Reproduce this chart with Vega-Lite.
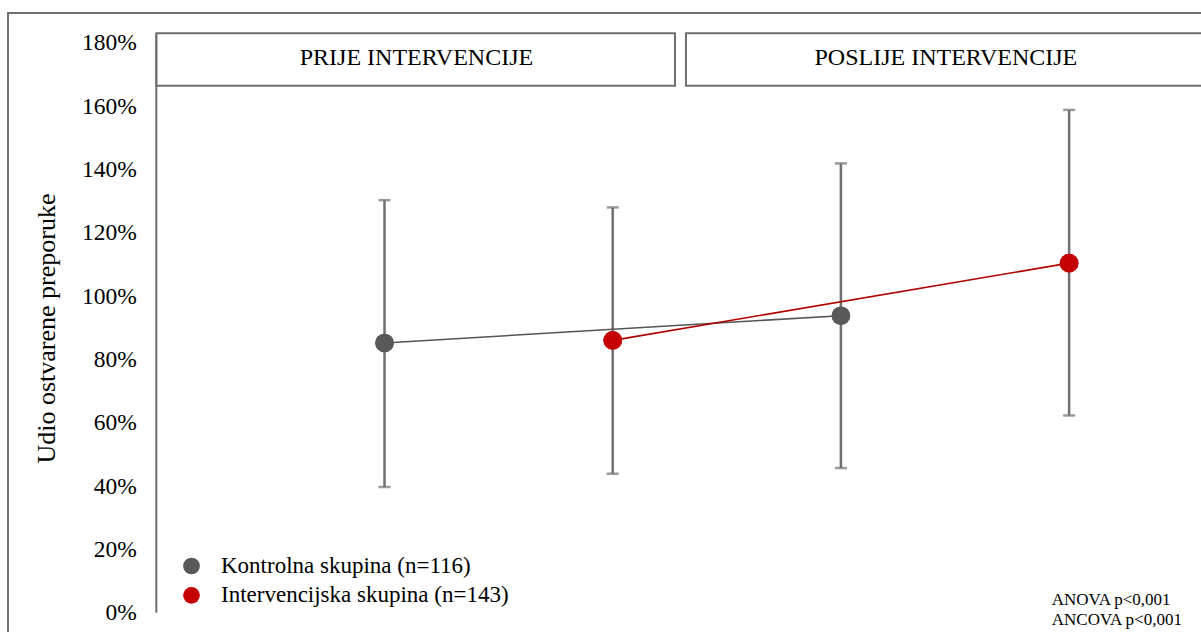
{
  "$schema": "https://vega.github.io/schema/vega-lite/v6.json",
  "width": 1197,
  "height": 623,
  "autosize": {"type": "none"},
  "padding": {"left": 8, "top": 13, "right": -4, "bottom": -4},
  "background": "white",
  "config": {
    "view": {"stroke": "#707070", "strokeWidth": 2},
    "axisX": {"disable": true},
    "axis": {"labelFont": "Liberation Serif", "titleFont": "Liberation Serif"},
    "legend": {"labelFont": "Liberation Serif", "titleFont": "Liberation Serif"},
    "text": {"font": "Liberation Serif"}
  },
  "datasets": {
    "points": [
      {"faza": "PRIJE INTERVENCIJE", "pos": 1, "skupina": "Kontrolna skupina (n=116)", "mean": 85.2, "low": 39.7, "high": 130.3},
      {"faza": "PRIJE INTERVENCIJE", "pos": 2, "skupina": "Intervencijska skupina (n=143)", "mean": 86.0, "low": 43.9, "high": 128.0},
      {"faza": "POSLIJE INTERVENCIJE", "pos": 3, "skupina": "Kontrolna skupina (n=116)", "mean": 93.8, "low": 45.7, "high": 141.9},
      {"faza": "POSLIJE INTERVENCIJE", "pos": 4, "skupina": "Intervencijska skupina (n=143)", "mean": 110.4, "low": 62.3, "high": 158.8}
    ],
    "headers": [
      {"faza": "PRIJE INTERVENCIJE", "start": 0, "end": 2.273, "mid": 1.14},
      {"faza": "POSLIJE INTERVENCIJE", "start": 2.321, "end": 4.7, "mid": 3.46}
    ]
  },
  "layer": [
    {
      "data": {"name": "points"},
      "mark": {"type": "point", "shape": "circle", "filled": true, "opacity": 1, "size": 346},
      "encoding": {
        "x": {"field": "pos", "type": "quantitative", "scale": {"domain": [-0.65, 4.5955], "nice": false, "zero": false}},
        "y": {"field": "mean", "type": "quantitative", "scale": {"domain": [-7.353, 189.4], "nice": false, "zero": false},
          "axis": {
            "orient": "left", "offset": -148.3,
            "values": [0, 20, 40, 60, 80, 100, 120, 140, 160, 180],
            "labelExpr": "datum.value + '%'",
            "domain": false, "ticks": false, "tickSize": 0, "grid": false,
            "labelPadding": 20, "labelFont": "Liberation Serif", "labelFontSize": 23.5, "labelColor": "#000000",
            "labelFlush": false, "labelOverlap": false,
            "title": "Udio ostvarene preporuke", "titleFont": "Liberation Serif", "titleFontSize": 26,
            "titleFontWeight": "normal", "titleColor": "#000000",
            "titleX": -109.6, "titleY": 315, "titleAngle": -90, "titleAlign": "center", "titleBaseline": "middle"
          }
        },
        "color": {"field": "skupina", "type": "nominal",
          "scale": {"domain": ["Kontrolna skupina (n=116)", "Intervencijska skupina (n=143)"], "range": ["#595959", "#c40000"]},
          "legend": {
            "orient": "none", "legendX": 172, "legendY": 541.5, "title": null,
            "symbolType": "circle", "symbolSize": 280,
            "labelFont": "Liberation Serif", "labelFontSize": 23, "labelColor": "#000000", "labelLimit": 400,
            "rowPadding": 5.3, "labelOffset": 18
          }
        }
      }
    },
    {
      "data": {"name": "headers"},
      "mark": {"type": "rect", "fill": "white", "stroke": "#707070", "strokeWidth": 2, "clip": true},
      "encoding": {
        "x": {"field": "start", "type": "quantitative"},
        "x2": {"field": "end"},
        "y": {"datum": 166.4, "type": "quantitative"},
        "y2": {"datum": 183.0}
      }
    },
    {
      "data": {"values": [{}]},
      "mark": {"type": "rule", "color": "#707070", "strokeWidth": 2},
      "encoding": {
        "x": {"datum": 0, "type": "quantitative"},
        "y": {"datum": 0, "type": "quantitative"},
        "y2": {"datum": 183.0}
      }
    },
    {
      "data": {"name": "headers"},
      "mark": {"type": "text", "font": "Liberation Serif", "fontSize": 24, "color": "#000000", "align": "center", "baseline": "middle"},
      "encoding": {
        "x": {"field": "mid", "type": "quantitative"},
        "y": {"datum": 175.3, "type": "quantitative"},
        "text": {"field": "faza"}
      }
    },
    {
      "data": {"name": "points"},
      "mark": {"type": "rule", "color": "#707070", "strokeWidth": 2.5},
      "encoding": {
        "x": {"field": "pos", "type": "quantitative"},
        "y": {"field": "low", "type": "quantitative"},
        "y2": {"field": "high"}
      }
    },
    {
      "data": {"name": "points"},
      "mark": {"type": "tick", "orient": "horizontal", "color": "#707070", "size": 12, "thickness": 2.5},
      "encoding": {
        "x": {"field": "pos", "type": "quantitative"},
        "y": {"field": "low", "type": "quantitative"}
      }
    },
    {
      "data": {"name": "points"},
      "mark": {"type": "tick", "orient": "horizontal", "color": "#707070", "size": 12, "thickness": 2.5},
      "encoding": {
        "x": {"field": "pos", "type": "quantitative"},
        "y": {"field": "high", "type": "quantitative"}
      }
    },
    {
      "data": {"name": "points"},
      "transform": [{"filter": "datum.skupina == 'Kontrolna skupina (n=116)'"}],
      "mark": {"type": "line", "strokeWidth": 1.6, "color": "#555555"},
      "encoding": {
        "x": {"field": "pos", "type": "quantitative"},
        "y": {"field": "mean", "type": "quantitative"}
      }
    },
    {
      "data": {"name": "points"},
      "transform": [{"filter": "datum.skupina == 'Intervencijska skupina (n=143)'"}],
      "mark": {"type": "line", "strokeWidth": 1.6, "color": "#b00000"},
      "encoding": {
        "x": {"field": "pos", "type": "quantitative"},
        "y": {"field": "mean", "type": "quantitative"}
      }
    },
    {
      "data": {"name": "points"},
      "mark": {"type": "point", "shape": "circle", "filled": true, "opacity": 1, "size": 346},
      "encoding": {
        "x": {"field": "pos", "type": "quantitative"},
        "y": {"field": "mean", "type": "quantitative"},
        "color": {"field": "skupina", "type": "nominal"}
      }
    },
    {
      "data": {"values": [{}]},
      "mark": {"type": "text", "text": ["ANOVA p<0,001", "ANCOVA p<0,001"], "font": "Liberation Serif", "fontSize": 17,
        "lineHeight": 19.7, "align": "left", "baseline": "alphabetic", "color": "#000000"},
      "encoding": {
        "x": {"datum": 3.924, "type": "quantitative"},
        "y": {"datum": 2.34, "type": "quantitative"}
      }
    }
  ]
}
